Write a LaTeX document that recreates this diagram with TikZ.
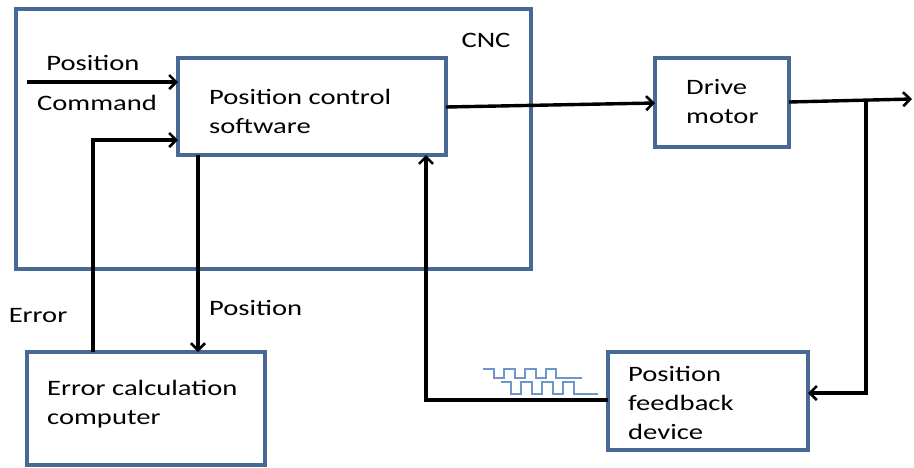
\documentclass[tikz,border=0pt]{standalone}
\usepackage{fontspec}
\setmainfont{Carlito}[FakeStretch=1.3]
\usetikzlibrary{arrows.meta}
\definecolor{boxblue}{RGB}{72,104,150}
\definecolor{waveblue}{RGB}{110,150,205}
\begin{document}
\begin{tikzpicture}[x=1pt,y=-1pt,
  blk/.style={draw=boxblue,line width=3.2pt},
  lbl/.style={font=\fontsize{22}{29}\selectfont,inner sep=0pt},
  wire/.style={line width=3.4pt,-{Straight Barb[length=7pt,width=14pt,line width=2.6pt]}},
  wave/.style={draw=waveblue,line width=1.4pt}]
\useasboundingbox (0,0) rectangle (914,467);
% boxes
\draw[blk] (16,9) rectangle (531,269);
\node[lbl,anchor=center] (cnc) at (486,40) {CNC};
\draw[blk] (178,58) rectangle (446,155);
\node[lbl,anchor=west,align=left] (pcs) at (209,111) {Position control\\software};
\draw[blk] (655,58) rectangle (789,147);
\node[lbl,anchor=west,align=left] (dm) at (686,102) {Drive\\motor};
\draw[blk] (27,352) rectangle (265,465);
\node[lbl,anchor=west,align=left] (ecc) at (47,404) {Error calculation\\computer};
\draw[blk] (608,352) rectangle (808,450);
\node[lbl,anchor=west,align=left] (pfd) at (628,403) {Position\\feedback\\device};
% labels
\node[lbl] (lpos) at (93,63) {Position};
\node[lbl] (lcmd) at (97,103) {Command};
\node[lbl] (lerr) at (38,316) {Error};
\node[lbl,anchor=west] (lpos2) at (209,308) {Position};
% coordinates
\coordinate (cmdstart) at (27,82);
\coordinate (pcsW1) at (178,82);
\coordinate (pcsW2) at (178,140);
\coordinate (errb) at (93,352);
\coordinate (errtop) at (93,140);
\coordinate (posb) at (198,155);
\coordinate (posend) at (198,352);
\coordinate (pcsE) at (446,107);
\coordinate (dmW) at (655,103);
\coordinate (dmE) at (789,102);
\coordinate (outend) at (912,99);
\coordinate (branch) at (866,100.5);
\coordinate (fbturn) at (866,393);
\coordinate (pfdE) at (808,393);
\coordinate (pfdW) at (608,400);
\coordinate (fbcorner) at (426,400);
\coordinate (pcsS) at (426,155);
% connectors
\draw[wire] (cmdstart) -- (pcsW1);
\draw[wire] (errb) -- (errtop) -- (pcsW2);
\draw[wire] (posb) -- (posend);
\draw[wire] (pcsE) -- (dmW);
\draw[wire] (dmE) -- (outend);
\draw[wire] (branch) -- (fbturn) -- (pfdE);
\draw[wire] (pfdW) -- (fbcorner) -- (pcsS);
% square waves
\draw[wave] (483,369) -- (494,369) -- (494,378) -- (504,378) -- (504,369) -- (515,369) -- (515,378) -- (525,378) -- (525,369) -- (536,369) -- (536,378) -- (546,378) -- (546,369) -- (556,369) -- (556,378) -- (582,378);
\draw[wave] (501,382) -- (511,382) -- (511,394) -- (521,394) -- (521,382) -- (532,382) -- (532,394) -- (542,394) -- (542,382) -- (553,382) -- (553,394) -- (563,394) -- (563,382) -- (574,382) -- (574,394) -- (598,394);
\end{tikzpicture}
\end{document}
